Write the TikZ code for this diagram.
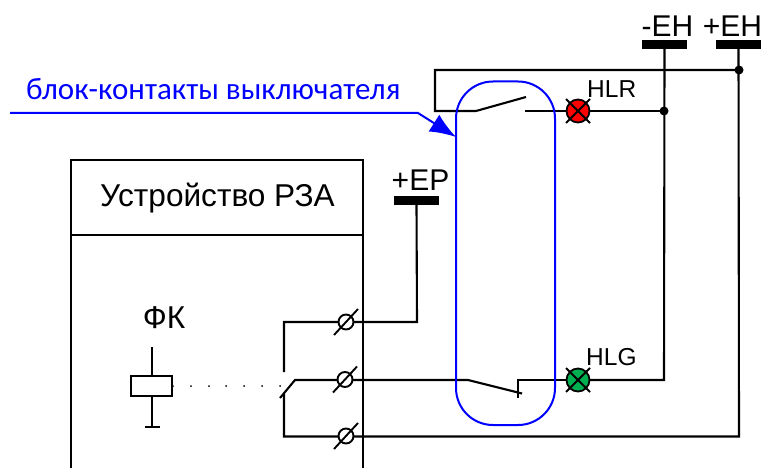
\documentclass[tikz,border=0pt]{standalone}
\usepackage{fontspec}
\setmainfont{Liberation Sans}
\newfontfamily\cali{Carlito}
\usetikzlibrary{arrows.meta,calc}
\definecolor{lampred}{RGB}{255,0,0}
\definecolor{lampgreen}{RGB}{0,176,80}
\definecolor{wireblue}{RGB}{0,0,255}
\tikzset{
  wire/.style={draw=black,line width=2.1pt},
  bus/.style={fill=black,draw=none,minimum width=45pt,minimum height=9pt,inner sep=0pt},
  lamp/.style={circle,draw=black,line width=1.8pt,minimum size=23pt,inner sep=0pt},
  term/.style={circle,draw=black,line width=1.9pt,fill=white,minimum size=15pt,inner sep=0pt},
  dotn/.style={circle,fill=black,minimum size=9pt,inner sep=0pt},
  lab/.style={inner sep=0pt,font=\fontsize{30}{30}\selectfont},
  devlab/.style={inner sep=0pt,font=\fontsize{31.6}{32}\selectfont},
  smalllab/.style={inner sep=0pt,font=\fontsize{24.5}{25}\selectfont},
  blueline/.style={draw=wireblue,line width=2pt}
}
\newcommand{\lampx}[1]{\draw[black,line width=1.8pt] ($(#1)+(-12,-12)$) -- ($(#1)+(12,12)$) ($(#1)+(-12,12)$) -- ($(#1)+(12,-12)$);}
\newcommand{\termx}[1]{\draw[black,line width=1.9pt] ($(#1)+(-12,13)$) -- ($(#1)+(12,-13)$);}
\begin{document}
\begin{tikzpicture}[x=1pt,y=-1pt]
\useasboundingbox (0,0) rectangle (763,468);
% device box
\draw[wire] (71,468) -- (71,160) -- (363,160) -- (363,468);
\draw[wire] (71,235) -- (363,235);
\node[devlab] (dev) at (217.5,198) {Устройство РЗА};
% buses
\node[bus] (mEH) at (664.5,44.5) {};
\node[bus] (pEH) at (738.5,44.5) {};
\node[bus] (pEP) at (416.5,200.5) {};
\node[lab,anchor=base] (lm) at (667.5,37) {-EH};
\node[lab,anchor=base] (lp) at (732.5,37) {+EH};
\node[lab,anchor=base] (lep) at (420.5,190) {+EP};
% coordinates
\coordinate (jR) at (664,111);
\coordinate (jT) at (739,70);
\coordinate (T1) at (346,322);
\coordinate (T2) at (345,379.5);
\coordinate (T3) at (346,436);
\coordinate (LR) at (578,111);
\coordinate (LG) at (578,380);
% wires
\draw[wire] (mEH.south) -- (664,380) -- (LG);
\draw[wire] (pEH.south) -- (739,436.5) -- (284,436.5) -- (284,394);
\draw[wire] (jT) -- (435,70) -- (435,111) -- (476,111) -- (526,97);
\draw[wire] (525,111) -- (jR);
\draw[wire] (pEP.south) -- (417,322) -- (284,322) -- (284,372);
\draw[wire] (280,398) -- (295,380) -- (468,380) -- (522,393.5);
\draw[wire] (518,398) -- (518,380) -- (LG);
\node[dotn] (d1) at (jR) {};
\node[dotn] (d2) at (jT) {};
% lamps
\node[lamp,fill=lampred] (lr) at (LR) {};
\lampx{LR}
\node[lamp,fill=lampgreen] (lg) at (LG) {};
\lampx{LG}
\node[smalllab,anchor=base west] (hlr) at (587,98) {HLR};
\node[smalllab,anchor=base west] (hlg) at (586,365) {HLG};
% terminals
\node[term] (t1) at (T1) {};
\node[term] (t2) at (T2) {};
\node[term] (t3) at (T3) {};
\termx{T1}\termx{T2}\termx{T3}
% relay
\node[devlab,anchor=base] (fk) at (164,328) {ФК};
\node[draw=black,line width=2.1pt,fill=white,minimum width=41pt,minimum height=20pt,inner sep=0pt] (rel) at (151.5,386) {};
\coordinate (rt) at (152,347);
\coordinate (rb) at (152,427);
\draw[wire] (rt) -- (rel.north -| rt);
\draw[wire] (rel.south -| rb) -- (rb);
\draw[wire] (145,427) -- (160,427);
\foreach \x in {173,191,209,226,244,262,280}{\fill[black] (\x,386) circle (1);}
% blue
\draw[blueline,rounded corners=37pt] (456,81.5) rectangle (555,425);
\node[inner sep=0pt,anchor=base west,text=wireblue,font=\cali\fontsize{31}{31}\selectfont] (bk) at (26,100) {блок-контакты выключателя};
\coordinate (ba) at (456,137);
\draw[blueline,-{Latex[length=26pt,width=20pt]}] (10,113) -- (418,113) -- (ba);
\end{tikzpicture}
\end{document}
